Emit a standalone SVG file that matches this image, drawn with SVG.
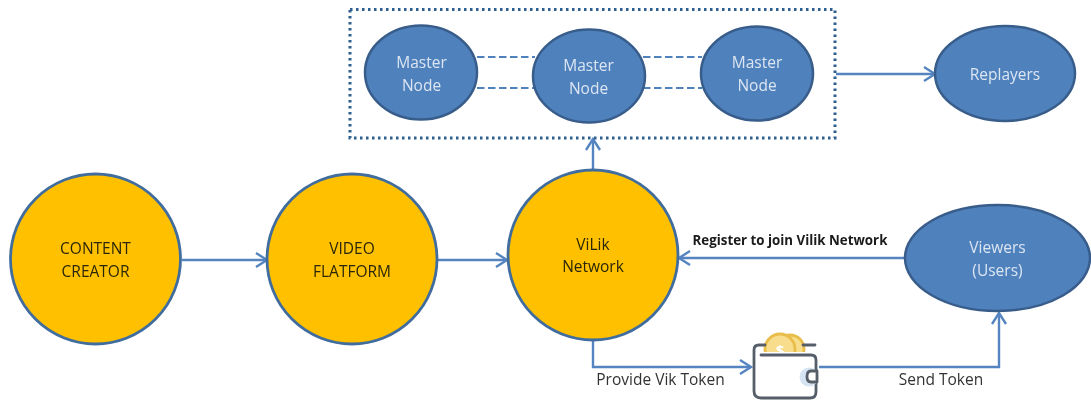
<svg xmlns="http://www.w3.org/2000/svg" width="1091" height="400" viewBox="0 0 1091 400">
<style>
text{font-family:"Open Sans","Liberation Sans",sans-serif;text-anchor:middle;font-size:15.500px}
.b ellipse{fill:#4f81bd;stroke:#385d8a;stroke-width:2.500}
.b text{fill:#dce6f2}
.o circle{fill:#ffc000;stroke:#3f6c9e;stroke-width:2.800}
.o text{fill:#2b2608}
.c path{fill:none;stroke:#5585c0;stroke-width:2.400}
.d path{fill:none;stroke:#4f81bd;stroke-width:2.200;stroke-dasharray:7.500 3.500}
.l{fill:#333}
.wl{fill:none;stroke:#565f69;stroke-width:2.800;stroke-linecap:round;stroke-linejoin:round}
.coin{fill:#f8de8c;stroke:#e8bd4a;stroke-width:2.800}
</style>
<defs>
<marker id="a" markerUnits="userSpaceOnUse" markerWidth="18" markerHeight="18" refX="14" refY="8" orient="auto"><path d="M3 1L14 8L3 15" fill="none" stroke="#5585c0" stroke-width="2.400"/></marker>
<clipPath id="coinclip"><rect x="755" y="325" width="60" height="27"/></clipPath>
<filter id="soft" x="0" y="0" width="100%" height="100%" filterUnits="userSpaceOnUse"><feGaussianBlur stdDeviation="0.450"/></filter>
</defs>
<g filter="url(#soft)">
<g id="connectors" class="c">
<path d="M182 260H267" marker-end="url(#a)"/>
<path d="M438 260H507" marker-end="url(#a)"/>
<path d="M593 171V139" marker-end="url(#a)"/>
<path d="M836 74H935" marker-end="url(#a)"/>
<path d="M905 258H679" marker-end="url(#a)"/>
<path d="M593 340V367H751" marker-end="url(#a)"/>
<path d="M819 367H999V313" marker-end="url(#a)"/>
</g>
<g id="links" class="d">
<path d="M477 57H535"/><path d="M477 88H535"/><path d="M643 57H702"/><path d="M643 88H702"/>
</g>
<g id="group-box"><rect x="350" y="9.500" width="485" height="128.500" fill="none" stroke="#2f5f8f" stroke-width="3" stroke-dasharray="2.500 3.500"/></g>
<g id="master1" class="b"><ellipse cx="421" cy="72.500" rx="56" ry="47"/><text x="421.500" y="67.500">Master</text><text x="421.500" y="90.500">Node</text></g>
<g id="master2" class="b"><ellipse cx="589" cy="76" rx="56" ry="46.500"/><text x="588.500" y="71">Master</text><text x="588.500" y="94">Node</text></g>
<g id="master3" class="b"><ellipse cx="757" cy="73.500" rx="56" ry="47"/><text x="757" y="68">Master</text><text x="757" y="91">Node</text></g>
<g id="replayers" class="b"><ellipse cx="1005" cy="73.500" rx="70" ry="47.500"/><text x="1005" y="80">Replayers</text></g>
<g id="viewers" class="b"><ellipse cx="997.500" cy="258" rx="92.500" ry="53"/><text x="997.500" y="253">Viewers</text><text x="997.500" y="276">(Users)</text></g>
<g id="content-creator" class="o"><circle cx="95.500" cy="259" r="85"/><text x="95.500" y="254">CONTENT</text><text x="95.500" y="277">CREATOR</text></g>
<g id="video-platform" class="o"><circle cx="352" cy="259" r="85"/><text x="352" y="254">VIDEO</text><text x="352" y="277">FLATFORM</text></g>
<g id="vilik-network" class="o"><circle cx="593" cy="255" r="85"/><text x="593" y="250">ViLik</text><text x="593" y="272">Network</text></g>
<g id="wallet">
<g clip-path="url(#coinclip)">
<circle cx="790" cy="349" r="14" class="coin"/>
<circle cx="780" cy="349" r="15" class="coin"/>
<text x="780" y="356" style="fill:#fff;font-size:15px;font-weight:700">$</text>
</g>
<path class="wl" d="M765 345H759Q754 345 754 350V391Q754 398 761 398H810Q816 398 816 392V360Q816 355 811 355H761M803 345H815"/>
<circle cx="809" cy="377" r="9.500" fill="#d5e3f2"/>
<path class="wl" style="fill:#fff" d="M817 371H811Q807 371 807 376.500Q807 382 811 382H817Z"/>
</g>
<text x="790" y="245" style="font-weight:700;font-size:13.300px;fill:#1a1a1a">Register to join Vilik Network</text>
<text x="660.500" y="385" class="l">Provide Vik Token</text>
<text x="941" y="385" class="l">Send Token</text>
</g>
</svg>
